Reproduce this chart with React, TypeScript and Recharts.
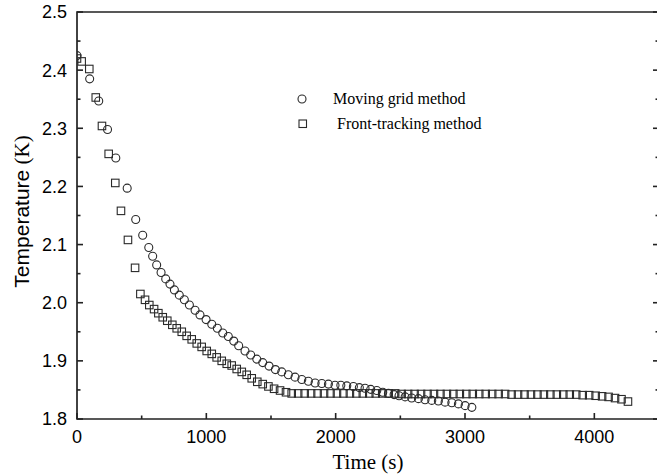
import React from "react";
import { ScatterChart, Scatter, XAxis, YAxis, Legend, ReferenceArea } from "recharts";

// moving grid method (circles)
const gridTime = [
  0, 98, 168, 236, 300, 388, 454, 508, 555, 585, 616, 650, 686, 719, 753, 791,
  830, 869, 913, 951, 998, 1042, 1085, 1127, 1170, 1212, 1250, 1299, 1343,
  1390, 1436, 1485, 1534, 1583, 1634, 1686, 1738, 1789, 1841, 1893, 1944,
  1995, 2040, 2086, 2137, 2183, 2227, 2271, 2318, 2364, 2408, 2452, 2490,
  2537, 2588, 2640, 2691, 2743, 2794, 2846, 2898, 2949, 3001, 3053,
];
const gridTemp = [
  2.425, 2.385, 2.347, 2.298, 2.249, 2.197, 2.143, 2.116, 2.095, 2.08, 2.065,
  2.052, 2.041, 2.032, 2.022, 2.013, 2.005, 1.996, 1.987, 1.979, 1.971, 1.963,
  1.956, 1.948, 1.942, 1.934, 1.926, 1.917, 1.91, 1.903, 1.897, 1.891, 1.885,
  1.881, 1.876, 1.872, 1.868, 1.865, 1.862, 1.861, 1.86, 1.858, 1.858, 1.857,
  1.856, 1.854, 1.853, 1.851, 1.849, 1.846, 1.844, 1.842, 1.84, 1.838, 1.836,
  1.835, 1.833, 1.832, 1.831, 1.829, 1.828, 1.826, 1.823, 1.82,
];

// front-tracking method (squares)
const frontTime = [
  0, 36, 95, 145, 193, 245, 296, 340, 394, 449, 490, 526, 559, 596, 629, 663,
  698, 737, 771, 810, 848, 887, 926, 964, 1003, 1042, 1080, 1119, 1158, 1196,
  1235, 1274, 1312, 1351, 1394, 1436, 1480, 1524, 1570, 1616, 1660, 1710,
  1760, 1810, 1860, 1910, 1960, 2010, 2060, 2110, 2160, 2210, 2260, 2310,
  2360, 2410, 2460, 2510, 2560, 2610, 2660, 2710, 2760, 2810, 2860, 2910,
  2960, 3010, 3060, 3110, 3160, 3210, 3260, 3310, 3360, 3410, 3460, 3510,
  3560, 3610, 3660, 3710, 3760, 3810, 3860, 3910, 3960, 4010, 4060, 4110,
  4160, 4210, 4260,
];
const frontTemp = [
  2.42, 2.415, 2.402, 2.353, 2.304, 2.256, 2.206, 2.158, 2.108, 2.06, 2.015,
  2.005, 1.996, 1.989, 1.982, 1.975, 1.969, 1.962, 1.956, 1.95, 1.943, 1.937,
  1.93, 1.924, 1.917, 1.912, 1.906, 1.9, 1.895, 1.892, 1.886, 1.881, 1.876,
  1.87, 1.864, 1.86, 1.856, 1.852, 1.849, 1.846, 1.844, 1.844, 1.844, 1.844,
  1.844, 1.844, 1.844, 1.844, 1.844, 1.844, 1.844, 1.844, 1.844, 1.844, 1.844,
  1.844, 1.844, 1.843, 1.843, 1.843, 1.843, 1.843, 1.843, 1.843, 1.843, 1.843,
  1.843, 1.843, 1.843, 1.843, 1.843, 1.843, 1.843, 1.843, 1.842, 1.842, 1.842,
  1.842, 1.842, 1.842, 1.842, 1.842, 1.842, 1.842, 1.842, 1.841, 1.841, 1.84,
  1.839, 1.838, 1.836, 1.834, 1.83,
];

const xTicks = [0, 500, 1000, 1500, 2000, 2500, 3000, 3500, 4000, 4500];
const yTicks = [
  1.8, 1.85, 1.9, 1.95, 2.0, 2.05, 2.1, 2.15, 2.2, 2.25, 2.3, 2.35, 2.4, 2.45,
  2.5,
];

const gridData = gridTime.map((t, i) => ({ t, T: gridTemp[i] }));
const frontData = frontTime.map((t, i) => ({ t, T: frontTemp[i] }));

const SANS = "'Liberation Sans', Arial, sans-serif";
const SERIF = "'Liberation Serif', 'Times New Roman', serif";
const INK = "#2a2a2a";
const FRAME = "#222222";
const TW = 1.6; // tick thickness

const isMajorX = (v: number) => v % 1000 === 0;
const isMajorY = (v: number) => Math.round(v * 100) % 10 === 0;

const CircleMark = (p: any) => (
  <circle cx={p.cx} cy={p.cy} r={4} fill="none" stroke={INK} strokeWidth={1.1} />
);
const SquareMark = (p: any) => (
  <rect
    x={p.cx - 3.75}
    y={p.cy - 3.75}
    width={7.5}
    height={7.5}
    fill="none"
    stroke={INK}
    strokeWidth={1.1}
  />
);

// ticks point into the plot; labels only on the major ones
const BottomTick = (props: any) => {
  const x = Number(props.x);
  const y = Number(props.y);
  const v = props.payload.value;
  const len = isMajorX(v) ? 6 : 3.5;
  return (
    <g>
      <rect x={x - TW / 2} y={y - len} width={TW} height={len} fill={FRAME} />
      {isMajorX(v) && (
        <text x={x} y={y + 11} dy="0.71em" textAnchor="middle" fontFamily={SANS} fontSize={18} fill="#000">
          {v}
        </text>
      )}
    </g>
  );
};

const TopTick = (props: any) => {
  const x = Number(props.x);
  const y = Number(props.y);
  const len = isMajorX(props.payload.value) ? 6 : 3.5;
  return <rect x={x - TW / 2} y={y} width={TW} height={len} fill={FRAME} />;
};

const LeftTick = (props: any) => {
  const x = Number(props.x);
  const y = Number(props.y);
  const v = props.payload.value;
  const len = isMajorY(v) ? 6 : 3.5;
  return (
    <g>
      <rect x={x} y={y - TW / 2} width={len} height={TW} fill={FRAME} />
      {isMajorY(v) && (
        <text x={x - 10} y={y} dy="0.355em" textAnchor="end" fontFamily={SANS} fontSize={18} fill="#000">
          {v.toFixed(1)}
        </text>
      )}
    </g>
  );
};

const RightTick = (props: any) => {
  const x = Number(props.x);
  const y = Number(props.y);
  const len = isMajorY(props.payload.value) ? 6 : 3.5;
  return <rect x={x - len} y={y - TW / 2} width={len} height={TW} fill={FRAME} />;
};

const YTitle = (props: any) => {
  const vb = props.viewBox;
  const cx = vb.x + 22;
  const cy = vb.y + vb.height / 2 - 4;
  return (
    <text
      transform={`translate(${cx},${cy}) rotate(-90)`}
      textAnchor="middle"
      dy="0.35em"
      fontSize={21}
      fill="#000"
    >
      <tspan fontFamily={SANS}>Temperature</tspan>
      <tspan fontFamily={SERIF}> (K)</tspan>
    </text>
  );
};

const XTitle = (props: any) => {
  const vb = props.viewBox;
  return (
    <text
      x={vb.x + vb.width / 2}
      y={vb.y + 50}
      textAnchor="middle"
      fontFamily={SERIF}
      fontSize={21}
      fill="#000"
    >
      Time (s)
    </text>
  );
};

const LegendBox = () => (
  <svg width={220} height={48}>
    <circle cx={12} cy={11} r={4} fill="none" stroke={INK} strokeWidth={1.1} />
    <text x={43} y={16} fontFamily={SERIF} fontSize={16} fill="#000">
      Moving grid method
    </text>
    <rect x={9} y={32} width={7.5} height={7.5} fill="none" stroke={INK} strokeWidth={1.1} />
    <text x={47} y={41} fontFamily={SERIF} fontSize={16} fill="#000">
      Front-tracking method
    </text>
  </svg>
);

export default function App() {
  return (
    <div
      style={{
        position: "absolute",
        left: 0,
        top: 0,
        width: 657,
        height: 475,
        overflow: "hidden",
        background: "#fff",
      }}
    >
      <ScatterChart
        width={662}
        height={475}
        margin={{ top: 11, right: 2, bottom: 0, left: 0 }}
      >
        <XAxis
          xAxisId="b"
          type="number"
          dataKey="t"
          domain={[0, 4500]}
          allowDataOverflow
          ticks={xTicks}
          interval={0}
          height={56}
          tickSize={0}
          tickMargin={0}
          tickLine={false}
          tick={<BottomTick />}
          axisLine={false}
          label={XTitle}
        />
        <XAxis
          xAxisId="top"
          orientation="top"
          type="number"
          domain={[0, 4500]}
          allowDataOverflow
          ticks={xTicks}
          interval={0}
          height={1}
          tickSize={0}
          tickMargin={0}
          tickLine={false}
          tick={<TopTick />}
          axisLine={false}
        />
        <YAxis
          yAxisId="l"
          type="number"
          dataKey="T"
          domain={[1.8, 2.5]}
          allowDataOverflow
          ticks={yTicks}
          interval={0}
          width={77}
          tickSize={0}
          tickMargin={0}
          tickLine={false}
          tick={<LeftTick />}
          axisLine={false}
          label={YTitle}
        />
        <YAxis
          yAxisId="r"
          orientation="right"
          type="number"
          domain={[1.8, 2.5]}
          allowDataOverflow
          ticks={yTicks}
          interval={0}
          width={1}
          tickSize={0}
          tickMargin={0}
          tickLine={false}
          tick={<RightTick />}
          axisLine={false}
        />
        <ReferenceArea
          xAxisId="b"
          yAxisId="l"
          x1={0}
          x2={4500}
          y1={1.8}
          y2={2.5}
          fill="none"
          fillOpacity={0}
          stroke={FRAME}
          strokeWidth={1.7}
          strokeOpacity={1}
          ifOverflow="visible"
        />
        <Legend
          layout="vertical"
          verticalAlign="middle"
          align="center"
          wrapperStyle={{ left: 290, top: 88, width: 220, height: 48 }}
          content={LegendBox}
        />
        <Scatter
          name="Moving grid method"
          data={gridData}
          xAxisId="b"
          yAxisId="l"
          shape={CircleMark}
          isAnimationActive={false}
        />
        <Scatter
          name="Front-tracking method"
          data={frontData}
          xAxisId="b"
          yAxisId="l"
          shape={SquareMark}
          isAnimationActive={false}
        />
      </ScatterChart>
    </div>
  );
}
